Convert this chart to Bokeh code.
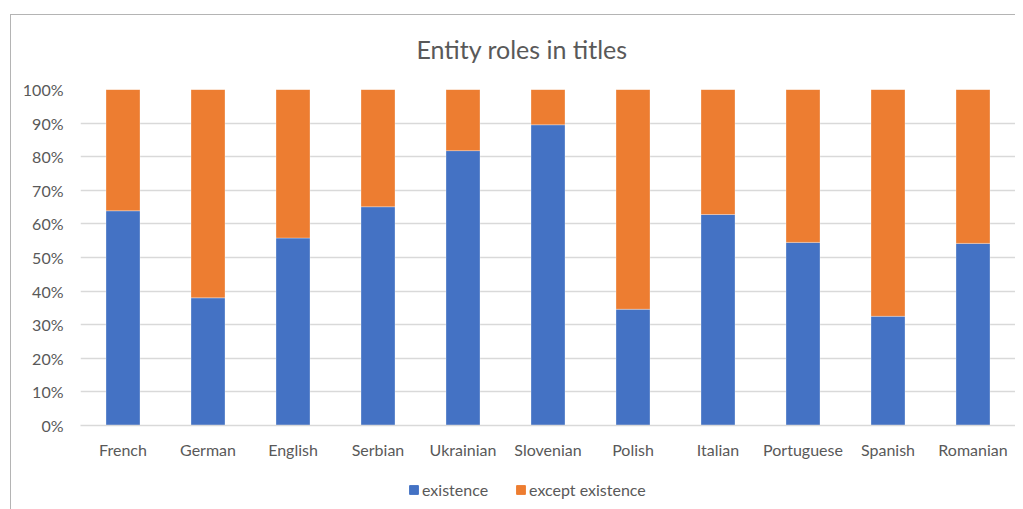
from bokeh.plotting import figure
from bokeh.layouts import column
from bokeh.models import (ColumnDataSource, FactorRange, Range1d, Legend, LegendItem,
                          NumeralTickFormatter, FixedTicker)
from bokeh.embed import file_html
from bokeh.resources import INLINE

languages = ["French", "German", "English", "Serbian", "Ukrainian", "Slovenian",
             "Polish", "Italian", "Portuguese", "Spanish", "Romanian"]
existence = [0.639, 0.380, 0.558, 0.651, 0.818, 0.895, 0.346, 0.628, 0.545, 0.325, 0.542]
except_existence = [0.361, 0.620, 0.442, 0.349, 0.182, 0.105, 0.654, 0.372, 0.455, 0.675, 0.458]
series = ["existence", "except existence"]
colors = ["#4472C4", "#ED7D31"]
y_ticks = [0.0, 0.1, 0.2, 0.3, 0.4, 0.5, 0.6, 0.7, 0.8, 0.9, 1.0]
title_text = "Entity roles in titles"

FONT = "Lato"
TXT = "#595959"
BORDER = "#b4b4b4"

source = ColumnDataSource(dict(lang=languages, existence=existence,
                               **{"except existence": except_existence}))
x_range = FactorRange(*languages, range_padding=0)

p = figure(x_range=x_range, y_range=Range1d(0, 1),
           width=1015, height=465,
           output_backend="svg", toolbar_location=None,
           min_border_left=80, min_border_right=0, min_border_top=89, min_border_bottom=40)
p.outline_line_color = None
p.border_fill_color = None
p.background_fill_color = "white"

renderers = p.vbar_stack(series, x="lang", width=0.4, color=colors, source=source,
                         line_color="white", line_width=0.5, line_alpha=0.6)

# title
p.title.text = title_text
p.title.align = "left"
p.title.offset = 336
p.title.standoff = 51
p.title.text_font = FONT
p.title.text_font_size = "25px"
p.title.text_font_style = "normal"
p.title.text_color = TXT

# axes
p.yaxis.ticker = FixedTicker(ticks=y_ticks)
p.yaxis.formatter = NumeralTickFormatter(format="0%")
p.yaxis.axis_line_color = None
p.yaxis.major_tick_line_color = None
p.yaxis.minor_tick_line_color = None
p.yaxis.major_tick_out = 0
p.yaxis.major_label_standoff = 17
p.yaxis.major_label_text_font = FONT
p.yaxis.major_label_text_font_size = "16px"
p.yaxis.major_label_text_color = TXT

p.xaxis.axis_line_color = "#d9d9d9"
p.xaxis.axis_line_width = 1.3
p.xaxis.major_tick_line_color = None
p.xaxis.major_tick_out = 0
p.xaxis.major_label_standoff = 14
p.xaxis.major_label_text_font = FONT
p.xaxis.major_label_text_font_size = "16px"
p.xaxis.major_label_text_color = TXT

p.xgrid.grid_line_color = None
p.ygrid.grid_line_color = "#d9d9d9"
p.ygrid.grid_line_width = 1.3

# legend strip (same series, drawn in a strip whose range keeps the bars out of view)
q = figure(x_range=x_range, y_range=Range1d(10, 11),
           width=1015, height=44,
           output_backend="svg", toolbar_location=None,
           x_axis_location=None, y_axis_location=None,
           min_border_left=80, min_border_right=0, min_border_top=0, min_border_bottom=0)
q.outline_line_color = None
q.border_fill_color = None
q.background_fill_color = None
q.xgrid.grid_line_color = None
q.ygrid.grid_line_color = None
q_renderers = q.vbar_stack(series, x="lang", width=0.4, color=colors, source=source)

legend = Legend(items=[LegendItem(label=s, renderers=[r]) for s, r in zip(series, q_renderers)],
                orientation="horizontal", location=(328, 10),
                glyph_width=11, glyph_height=11, label_standoff=3, spacing=27,
                padding=0, margin=0, border_line_color=None, background_fill_alpha=0,
                label_text_font=FONT, label_text_font_size="16px", label_text_color=TXT,
                label_height=20)
q.add_layout(legend, "center")

layout = column(p, q, spacing=0, styles={
    "background-color": "white",
    "background-image": f"linear-gradient({BORDER}, {BORDER}), linear-gradient({BORDER}, {BORDER})",
    "background-repeat": "no-repeat",
    "background-size": "1px 100%, 100% 1px",
    "background-position": "10px 14px, 10px 14px",
})
open("out.html", "w").write(file_html(layout, INLINE))
